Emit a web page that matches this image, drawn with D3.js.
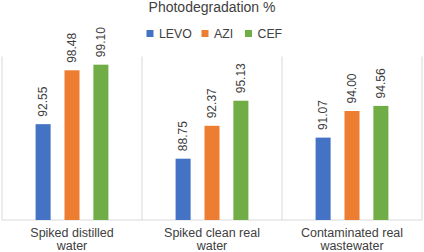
<!DOCTYPE html>
<html>
<head>
<meta charset="utf-8">
<script src="https://cdn.jsdelivr.net/npm/d3@7"></script>
<style>
  body { margin: 0; background: #fff; }
  svg { font-family: "Liberation Sans", Arial, sans-serif; }
</style>
</head>
<body>
<div id="chart"></div>
<script>
const categories = [["Spiked distilled", "water"], ["Spiked clean real", "water"], ["Contaminated real", "wastewater"]];
const series = ["LEVO", "AZI", "CEF"];
const levo = [92.55, 88.75, 91.07];
const azi = [98.48, 92.37, 94.00];
const cef = [99.10, 95.13, 94.56];
const colors = ["#4472C4", "#ED7D31", "#70AD47"];

const values = [levo, azi, cef];
const width = 424, height = 252;
const plot = {left: 2, right: 422, top: 56.5, bottom: 220};

const svg = d3.select("#chart")
    .append("svg")
    .attr("width", width)
    .attr("height", height);

const x0 = d3.scaleBand()
    .domain(d3.range(categories.length))
    .range([plot.left, plot.right]);

const bw = x0.bandwidth();
const x1 = d3.scaleBand()
    .domain(series)
    .range([bw * 0.24, bw * 0.76])
    .paddingInner(0.48);

const y = d3.scaleLinear()
    .domain([82, 100])
    .range([plot.bottom, plot.top]);

// separators between categories
svg.selectAll("line.sep")
    .data(d3.range(categories.length + 1))
    .enter().append("line")
    .attr("x1", d => d < categories.length ? x0(d) : plot.right)
    .attr("x2", d => d < categories.length ? x0(d) : plot.right)
    .attr("y1", plot.top)
    .attr("y2", plot.bottom)
    .style("stroke", "#d9d9d9")
    .style("stroke-width", 1);

svg.append("line")
    .attr("x1", plot.left).attr("x2", plot.right)
    .attr("y1", plot.bottom).attr("y2", plot.bottom)
    .style("stroke", "#d9d9d9")
    .style("stroke-width", 1);

// bars
const groups = svg.selectAll("g.cat")
    .data(categories)
    .enter().append("g")
    .attr("transform", (d, i) => "translate(" + x0(i) + ",0)");

groups.each(function(c, i) {
    const g = d3.select(this);
    series.forEach(function(s, j) {
        const v = values[j][i];
        g.append("rect")
            .attr("x", x1(s))
            .attr("y", y(v))
            .attr("width", x1.bandwidth())
            .attr("height", plot.bottom - y(v))
            .style("fill", colors[j]);
        const cx = x1(s) + x1.bandwidth() / 2;
        g.append("text")
            .attr("transform", "translate(" + (cx + 4.3) + "," + (y(v) - 7.5) + ") rotate(-90)")
            .style("font-size", "12px")
            .style("fill", "#404040")
            .text(v.toFixed(2));
    });
    const t = g.append("text")
        .attr("x", bw / 2)
        .attr("y", 236.5)
        .attr("text-anchor", "middle")
        .style("font-size", "12.5px")
        .style("fill", "#404040");
    c.forEach(function(line, k) {
        t.append("tspan").attr("x", bw / 2).attr("dy", k === 0 ? 0 : 13.5).text(line);
    });
});

// title
svg.append("text")
    .attr("x", width / 2)
    .attr("y", 12)
    .attr("text-anchor", "middle")
    .style("font-size", "14px")
    .style("fill", "#404040")
    .text("Photodegradation %");

// legend
const legendX = [146.5, 201.5, 245];
const legend = svg.selectAll("g.legend")
    .data(series)
    .enter().append("g")
    .attr("transform", (d, i) => "translate(" + legendX[i] + ",30)");
legend.append("rect")
    .attr("width", 7).attr("height", 7)
    .style("fill", (d, i) => colors[i]);
legend.append("text")
    .attr("x", 12.5)
    .attr("y", 7.5)
    .style("font-size", "12.3px")
    .style("fill", "#404040")
    .text(d => d);
</script>
</body>
</html>
